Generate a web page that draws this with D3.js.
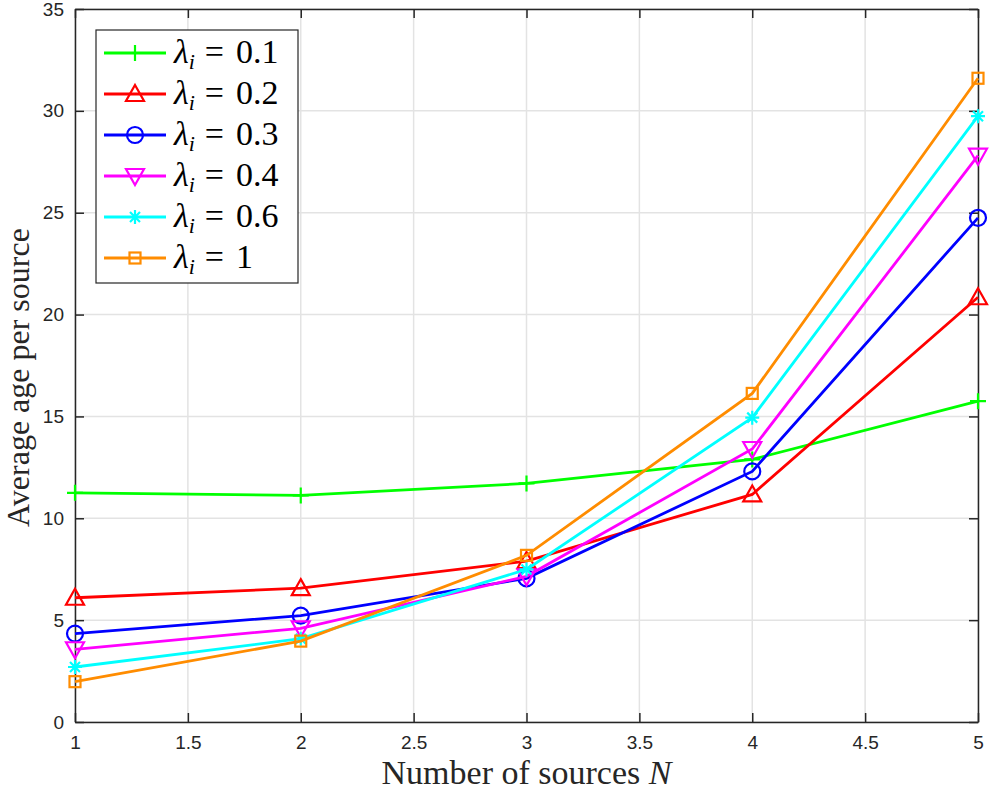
<!DOCTYPE html>
<html>
<head>
<meta charset="utf-8">
<script src="https://cdn.jsdelivr.net/npm/d3@7"></script>
<style>
  body { margin: 0; background: #fff; }
  .tick text { font-family: "Liberation Sans", Arial, sans-serif; font-size: 19px; fill: #262626; }
  .lab { font-family: "Liberation Serif", "Times New Roman", serif; fill: #262626; }
</style>
</head>
<body>
<div id="chart"></div>
<script>
const xValues = [1, 2, 3, 4, 5];
const xTicks = [1, 1.5, 2, 2.5, 3, 3.5, 4, 4.5, 5];
const yTicks = [0, 5, 10, 15, 20, 25, 30, 35];
const lambdas = ["0.1", "0.2", "0.3", "0.4", "0.6", "1"];
const age01 = [11.25, 11.12, 11.71, 12.89, 15.75];
const age02 = [6.1, 6.57, 7.9, 11.17, 20.85];
const age03 = [4.34, 5.22, 7.05, 12.3, 24.75];
const age04 = [3.57, 4.6, 7.15, 13.4, 27.8];
const age06 = [2.7, 4.09, 7.49, 14.94, 29.74];
const age1 = [1.98, 3.97, 8.18, 16.13, 31.6];
const colors = ["#00ff00", "#ff0000", "#0000ff", "#ff00ff", "#00ffff", "#ff8c00"];
const markers = ["plus", "triUp", "circle", "triDown", "star", "square"];

const series = [age01, age02, age03, age04, age06, age1].map((v, i) => ({
    lambda: lambdas[i], values: v, color: colors[i], marker: markers[i]
}));

const W = 990, H = 790;
const margin = { top: 9, right: 12, bottom: 68, left: 75 };
const width = W - margin.left - margin.right;
const height = H - margin.top - margin.bottom;

const svg = d3.select("#chart").append("svg")
    .attr("width", W).attr("height", H);
const g = svg.append("g").attr("transform", `translate(${margin.left},${margin.top})`);

const x = d3.scaleLinear().domain([1, 5]).range([0, width]);
const y = d3.scaleLinear().domain([0, 35]).range([height, 0]);

// grid
g.append("g").selectAll("line").data(xTicks).join("line")
    .attr("x1", d => x(d)).attr("x2", d => x(d)).attr("y1", 0).attr("y2", height)
    .attr("stroke", "#e3e3e3").attr("stroke-width", 1.5);
g.append("g").selectAll("line").data(yTicks).join("line")
    .attr("y1", d => y(d)).attr("y2", d => y(d)).attr("x1", 0).attr("x2", width)
    .attr("stroke", "#e3e3e3").attr("stroke-width", 1.5);

// axes (ticks inward, box on)
const axisStyle = sel => {
    sel.select(".domain").attr("stroke", "#262626").attr("stroke-width", 1.5);
    sel.selectAll(".tick line").attr("stroke", "#262626").attr("stroke-width", 1.5);
};
g.append("g").attr("transform", `translate(0,${height})`)
    .call(d3.axisBottom(x).tickValues(xTicks).tickSize(-9).tickPadding(14).tickSizeOuter(0).tickFormat(d3.format("")))
    .call(axisStyle);
g.append("g")
    .call(d3.axisLeft(y).tickValues(yTicks).tickSize(-9).tickPadding(11).tickSizeOuter(0))
    .call(axisStyle);
g.append("g")
    .call(d3.axisTop(x).tickValues(xTicks).tickSize(-9).tickSizeOuter(0).tickFormat(""))
    .call(axisStyle);
g.append("g").attr("transform", `translate(${width},0)`)
    .call(d3.axisRight(y).tickValues(yTicks).tickSize(-9).tickSizeOuter(0).tickFormat(""))
    .call(axisStyle);

function drawMarker(sel, type, color) {
    if (type === "plus") {
        sel.append("path").attr("d", "M-8,0H8M0,-8V8");
    } else if (type === "triUp") {
        sel.append("path").attr("d", "M0,-9L9,7H-9Z");
    } else if (type === "triDown") {
        sel.append("path").attr("d", "M0,9L9,-7H-9Z");
    } else if (type === "circle") {
        sel.append("circle").attr("r", 8);
    } else if (type === "square") {
        sel.append("rect").attr("x", -5.5).attr("y", -5.5).attr("width", 11).attr("height", 11);
    } else if (type === "star") {
        sel.append("path").attr("d", "M-7,0H7M0,-7V7M-5,-5L5,5M-5,5L5,-5");
    }
    sel.selectAll("*").attr("fill", "none").attr("stroke", color).attr("stroke-width", 2.2);
}

const line = d3.line().x((d, i) => x(xValues[i])).y(d => y(d));

series.forEach(s => {
    g.append("path").datum(s.values)
        .attr("d", line)
        .attr("fill", "none").attr("stroke", s.color).attr("stroke-width", 2.8);
    g.append("g").selectAll("g").data(s.values).join("g")
        .attr("transform", (d, i) => `translate(${x(xValues[i])},${y(d)})`)
        .each(function () { drawMarker(d3.select(this), s.marker, s.color); });
});

// legend
const legend = svg.append("g").attr("transform", "translate(96,30)");
legend.append("rect").attr("width", 202).attr("height", 253)
    .attr("fill", "#fff").attr("stroke", "#262626").attr("stroke-width", 1.2);
series.forEach((s, i) => {
    const row = legend.append("g").attr("transform", `translate(0,${23 + i * 41})`);
    row.append("line").attr("x1", 8).attr("x2", 70).attr("stroke", s.color).attr("stroke-width", 2.8);
    const m = row.append("g").attr("transform", "translate(39,0)");
    drawMarker(m, s.marker, s.color);
    const t = row.append("text").attr("class", "lab").attr("x", 78).attr("y", 10)
        .style("font-size", "34px").style("fill", "#000");
    t.append("tspan").style("font-style", "italic").text("λ");
    t.append("tspan").style("font-style", "italic").style("font-size", "22px").attr("dy", 6).text("i");
    t.append("tspan").attr("dy", -6).attr("dx", 10).text("=");
    t.append("tspan").attr("dx", 12).text(s.lambda);
});

// axis labels
svg.append("text").attr("class", "lab")
    .attr("x", margin.left + width / 2).attr("y", 784)
    .attr("text-anchor", "middle").style("font-size", "34px")
    .text("Number of sources ")
    .append("tspan").style("font-style", "italic").text("N");
svg.append("text").attr("class", "lab")
    .attr("transform", `translate(29,${margin.top + height / 2 + 12}) rotate(-90)`)
    .attr("text-anchor", "middle").style("font-size", "32px")
    .text("Average age per source");
</script>
</body>
</html>
